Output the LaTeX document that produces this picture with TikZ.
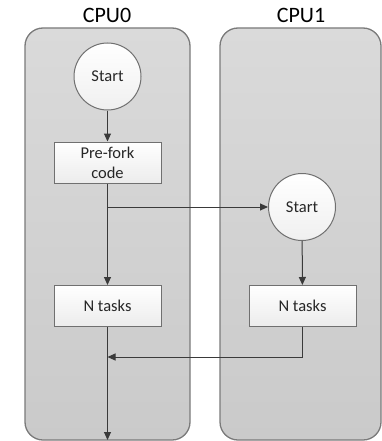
\documentclass[tikz,border=0pt]{standalone}
\usepackage{fontspec}
\setmainfont{Carlito}
\usetikzlibrary{arrows.meta,shadows}
\definecolor{lanetop}{HTML}{DADADA}
\definecolor{lanebot}{HTML}{CACACA}
\definecolor{laneline}{HTML}{7A7A7A}
\definecolor{boxline}{HTML}{707070}
\definecolor{flow}{HTML}{3A3A3A}
\begin{document}
\begin{tikzpicture}[x=1pt,y=-1pt,
  lane/.style={draw=laneline,line width=1.3pt,rounded corners=18pt,top color=lanetop,bottom color=lanebot},
  title/.style={font=\fontsize{22}{26}\selectfont,text=black},
  startnode/.style={circle,draw=boxline,line width=1pt,minimum size=67pt,inner sep=0pt,top color=white,bottom color=gray!12,font=\fontsize{16.5}{19}\selectfont,text=black!85},
  procbox/.style={rectangle,draw=boxline,line width=1pt,minimum width=107pt,minimum height=41pt,inner sep=0pt,align=center,top color=white,bottom color=gray!15,font=\fontsize{16.5}{20}\selectfont,text=black!85},
  flowline/.style={draw=flow,line width=1pt,-{Triangle[length=8pt,width=7pt]}}
]
\useasboundingbox (0,0) rectangle (382,441);
% lanes
\path[lane] (25,28) rectangle (190,440);
\path[lane] (220,28) rectangle (381,440);
\node[title] (t0) at (107,15) {CPU0};
\node[title] (t1) at (301,15) {CPU1};
% nodes
\node[startnode] (s0) at (107.5,76.5) {Start};
\node[procbox] (pf) at (107.5,162.5) {Pre-fork\\code};
\node[startnode] (s1) at (302,207) {Start};
\node[procbox] (n0) at (107.5,306) {N tasks};
\node[procbox] (n1) at (302.5,306) {N tasks};
\coordinate (fork) at (107.5,207);
\coordinate (join) at (107.5,357);
\coordinate (endpt) at (107.5,440);
% connectors
\draw[flowline] (s0) -- (pf);
\draw[flowline] (pf) -- (n0);
\draw[flowline] (fork) -- (s1);
\draw[flowline] (s1) -- (n1);
\draw[flowline] (n1.south) |- (join);
\draw[flowline] (n0) -- (endpt);
\end{tikzpicture}
\end{document}
